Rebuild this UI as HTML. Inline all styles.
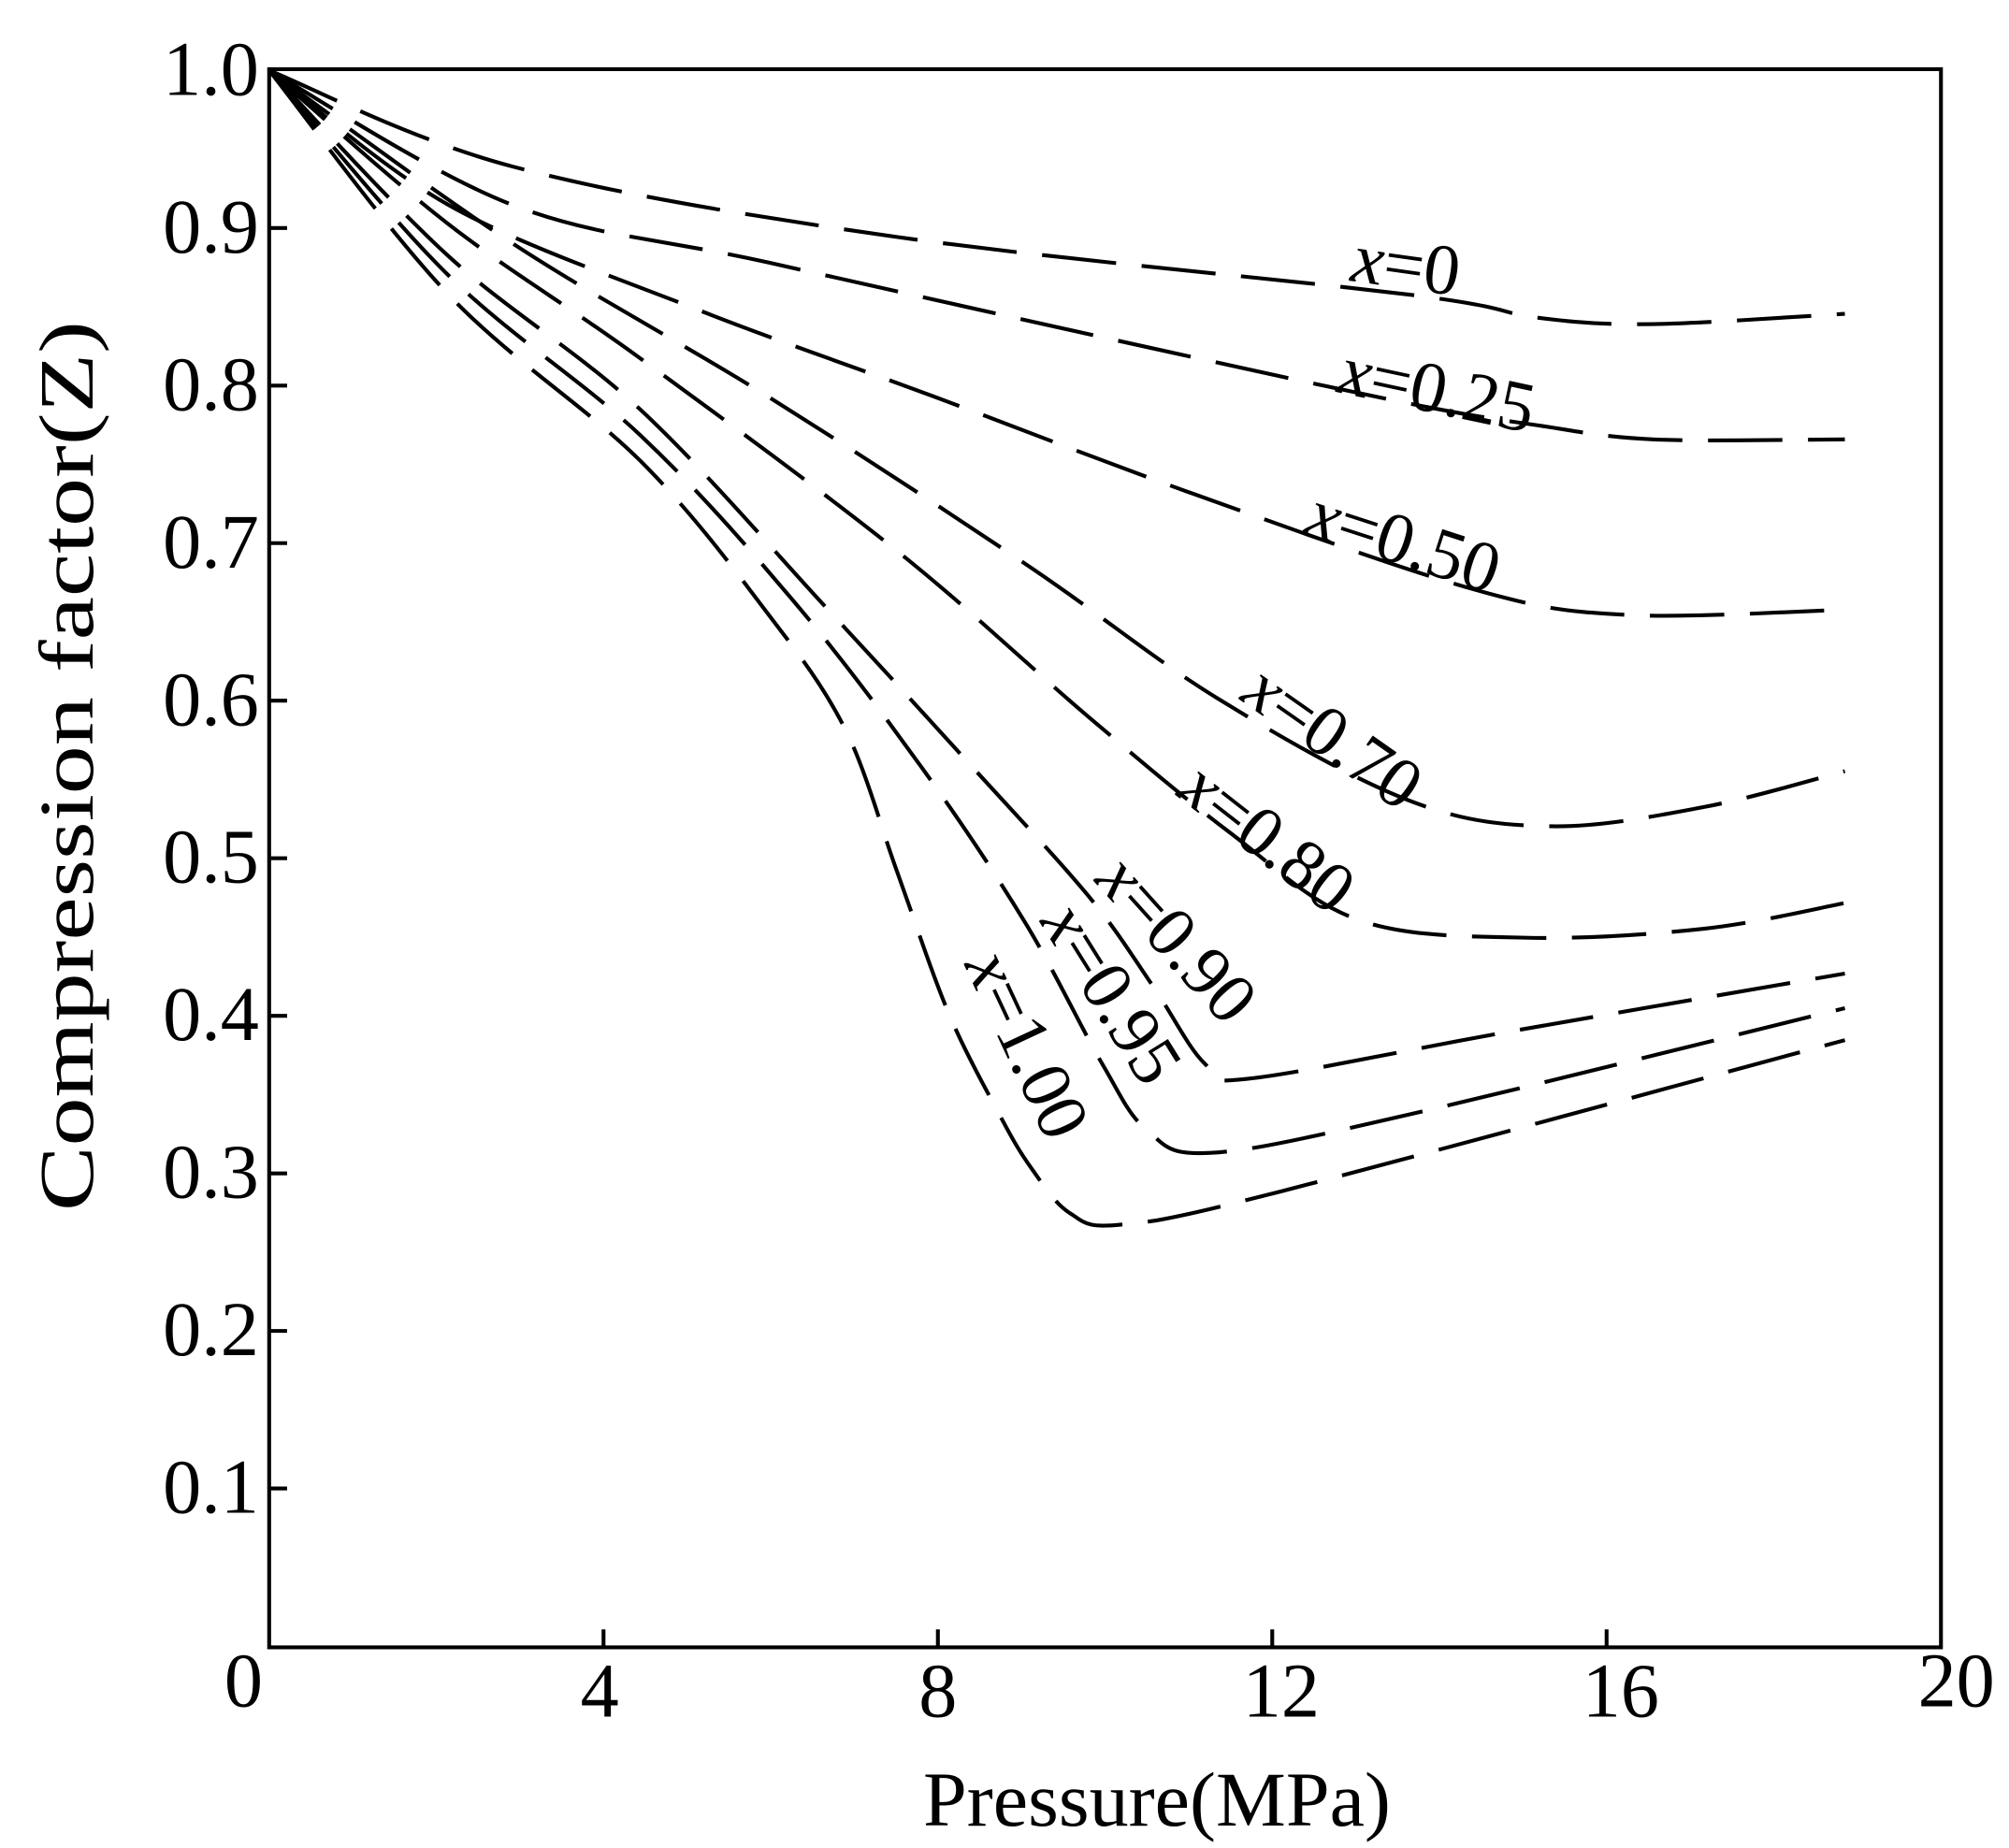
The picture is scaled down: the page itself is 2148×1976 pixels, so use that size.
<!DOCTYPE html>
<html><head><meta charset="utf-8"><style>html,body{margin:0;padding:0;background:#fff}</style></head>
<body>
<svg id="s" xmlns="http://www.w3.org/2000/svg" width="2148" height="1971" viewBox="0 0 1568 1439">
<rect width="1568" height="1439" fill="#fff"/>
<g font-family="Liberation Serif, serif" fill="#000">
<rect x="210" y="54" width="1305" height="1232" fill="none" stroke="#000" stroke-width="3"/>
<g stroke="#000" stroke-width="3">
<line x1="471" y1="1286" x2="471" y2="1272"/><line x1="732" y1="1286" x2="732" y2="1272"/>
<line x1="993" y1="1286" x2="993" y2="1272"/><line x1="1254" y1="1286" x2="1254" y2="1272"/>
<line x1="210" y1="1162" x2="224" y2="1162"/><line x1="210" y1="1039" x2="224" y2="1039"/>
<line x1="210" y1="916" x2="224" y2="916"/><line x1="210" y1="793" x2="224" y2="793"/>
<line x1="210" y1="670" x2="224" y2="670"/><line x1="210" y1="547" x2="224" y2="547"/>
<line x1="210" y1="424" x2="224" y2="424"/><line x1="210" y1="301" x2="224" y2="301"/>
<line x1="210" y1="178" x2="224" y2="178"/>
</g>
<g font-size="60" text-anchor="end">
<text x="202" y="74">1.0</text><text x="202" y="197">0.9</text><text x="202" y="320">0.8</text>
<text x="202" y="443">0.7</text><text x="202" y="566">0.6</text><text x="202" y="689">0.5</text>
<text x="202" y="812">0.4</text><text x="202" y="935">0.3</text><text x="202" y="1058">0.2</text>
<text x="202" y="1181">0.1</text>
</g>
<g font-size="60" text-anchor="middle">
<text x="190" y="1332">0</text><text x="468" y="1340">4</text><text x="732" y="1340">8</text>
<text x="1000" y="1340">12</text><text x="1265" y="1340">16</text><text x="1527" y="1332">20</text>
<text x="903" y="1425" textLength="365" lengthAdjust="spacingAndGlyphs">Pressure(MPa)</text>
<text transform="translate(72,598) rotate(-90)" textLength="695" lengthAdjust="spacingAndGlyphs">Compression factor(Z)</text>
</g>
<g id="curves" fill="none" stroke="#000" stroke-width="3" stroke-dasharray="58 20"></g>
<g font-size="56" text-anchor="middle">
<text transform="translate(1095,225) rotate(8)"><tspan font-style="italic">x</tspan>=0</text>
<text transform="translate(1118,322) rotate(12)"><tspan font-style="italic">x</tspan>=0.25</text>
<text transform="translate(1090,440) rotate(18)"><tspan font-style="italic">x</tspan>=0.50</text>
<text transform="translate(1030,590) rotate(35)"><tspan font-style="italic">x</tspan>=0.70</text>
<text transform="translate(978,668) rotate(38)"><tspan font-style="italic">x</tspan>=0.80</text>
<text transform="translate(905,745) rotate(48)"><tspan font-style="italic">x</tspan>=0.90</text>
<text transform="translate(852,785) rotate(58)"><tspan font-style="italic">x</tspan>=0.95</text>
<text transform="translate(785,823) rotate(65)"><tspan font-style="italic">x</tspan>=1.00</text>
</g>
</g>
</svg>
<script>
var C=[
[[210,55],[400,130],[700,185],[1100,230],[1200,248],[1290,253],[1440,245]],
[[210,55],[400,160],[600,205],[900,272],[1100,315],[1200,332],[1290,343],[1440,343]],
[[210,55],[350,160],[540,240],[730,310],[930,385],[1150,460],[1270,480],[1440,476]],
[[210,55],[400,190],[600,310],[800,440],[950,545],[1100,625],[1210,645],[1330,630],[1440,602]],
[[210,55],[350,175],[500,280],[700,430],[850,560],[960,650],[1060,718],[1190,732],[1330,725],[1440,705]],
[[210,55],[350,200],[500,320],[650,480],[760,600],[850,700],[900,770],[940,830],[975,842],[1180,805],[1440,760]],
[[210,55],[350,215],[500,340],[620,470],[720,600],[800,720],[860,830],[895,882],[945,900],[1100,870],[1440,787]],
[[210,55],[350,230],[500,360],[600,480],[660,570],[700,680],[740,790],[780,870],[805,912],[835,947],[875,956],[1000,930],[1440,812]]];
var g=document.getElementById('curves');
C.forEach(function(p){
 var d='M'+p[0][0]+','+p[0][1];
 for(var i=0;i<p.length-1;i++){
  var p0=p[i-1]||p[i],p1=p[i],p2=p[i+1],p3=p[i+2]||p2;
  var c1=[p1[0]+(p2[0]-p0[0])/6,p1[1]+(p2[1]-p0[1])/6];
  var c2=[p2[0]-(p3[0]-p1[0])/6,p2[1]-(p3[1]-p1[1])/6];
  d+=' C'+c1[0]+','+c1[1]+' '+c2[0]+','+c2[1]+' '+p2[0]+','+p2[1];
 }
 var e=document.createElementNS('http://www.w3.org/2000/svg','path');
 e.setAttribute('d',d);g.appendChild(e);
});
</script>
</body></html>
